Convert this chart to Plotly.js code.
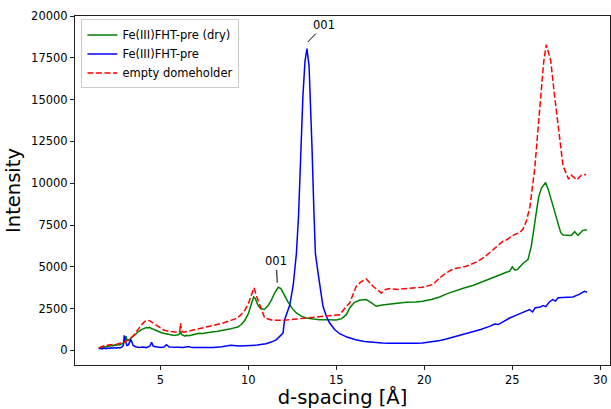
<!DOCTYPE html>
<html>
<head>
<meta charset="utf-8">
<script src="https://cdn.plot.ly/plotly-3.0.1.min.js"></script>
<style>html,body{margin:0;padding:0;background:#fff;}#chart{width:611px;height:409px;}</style>
</head>
<body>
<div id="chart"></div>
<script>
// Fe(III)FHT-pre (dry)
const dryD = [1.5,1.6,1.7,1.8,1.9,2.0,2.1,2.2,2.3,2.4,2.5,2.6,2.7,2.8,2.9,3.0,3.05,3.1,3.2,3.3,3.4,3.5,3.6,3.7,3.8,3.9,4.0,4.1,4.2,4.3,4.4,4.5,4.6,4.7,4.8,4.9,5.0,5.1,5.2,5.3,5.4,5.5,5.6,5.7,5.8,5.9,6.0,6.1,6.15,6.2,6.3,6.4,6.5,6.6,6.8,7.0,7.2,7.4,7.6,7.8,8.0,8.2,8.4,8.6,8.8,9.0,9.2,9.4,9.6,9.8,10.0,10.15,10.3,10.4,10.55,10.7,10.9,11.1,11.3,11.5,11.7,11.85,12.0,12.25,12.5,12.73,13.0,13.3,13.7,14.05,14.5,15.0,15.3,15.57,15.76,16.0,16.3,16.7,17.0,17.27,17.6,18.03,18.5,18.98,19.5,19.9,20.4,20.87,21.3,21.82,22.3,22.76,23.2,23.7,24.2,24.66,24.85,25.0,25.15,25.3,25.6,25.89,26.08,26.36,26.5,26.65,26.89,27.05,27.2,27.4,27.6,27.75,27.88,28.1,28.35,28.54,28.73,29.0,29.24];
const dryI = [150,190,160,230,200,270,240,300,270,330,300,360,330,410,450,700,850,650,620,700,800,900,990,1080,1160,1230,1290,1320,1370,1340,1380,1300,1290,1220,1190,1120,1090,1040,1020,980,970,940,930,930,900,920,930,1000,1150,950,880,860,900,880,920,980,1030,1010,1060,1080,1120,1140,1170,1200,1260,1300,1350,1400,1550,1800,2200,2700,3200,3100,2700,2500,2450,2650,3000,3450,3780,3700,3400,2900,2500,2240,2050,1940,1880,1840,1840,1820,1900,2140,2540,2850,3000,3040,2850,2640,2720,2780,2840,2880,2900,2940,3050,3200,3400,3600,3750,3880,4050,4280,4480,4680,4740,5000,4800,4850,5200,5440,6240,8240,9200,9700,10040,9600,9040,8300,7440,7040,6900,6900,6880,7100,6880,7180,7220];

// Fe(III)FHT-pre
const wetD = [1.5,1.6,1.7,1.8,1.9,2.0,2.1,2.2,2.3,2.4,2.5,2.6,2.7,2.8,2.9,2.95,3.0,3.05,3.1,3.2,3.3,3.35,3.45,3.6,3.8,4.0,4.2,4.4,4.5,4.6,4.8,5.0,5.2,5.35,5.5,5.8,6.0,6.3,6.6,6.8,7.2,7.6,8.0,8.5,9.0,9.5,10.0,10.5,11.0,11.3,11.6,11.97,12.06,12.35,12.55,12.73,12.85,12.97,13.1,13.22,13.33,13.45,13.55,13.62,13.72,13.81,13.96,14.1,14.24,14.45,14.62,14.9,15.19,15.6,16.1,16.6,17.1,17.6,18.0,18.5,19.0,19.5,19.9,20.4,20.9,21.3,21.8,22.3,22.76,23.2,23.7,24.0,24.2,24.5,24.85,25.2,25.6,25.98,26.15,26.3,26.55,26.74,26.9,27.1,27.3,27.45,27.6,27.88,28.2,28.44,28.8,29.1,29.24];
const wetI = [100,130,90,140,110,150,120,160,130,170,140,180,150,200,300,900,600,400,300,350,650,600,300,220,180,200,170,250,480,250,190,170,200,340,200,170,190,180,240,170,160,170,180,220,310,270,280,320,400,500,650,1040,1840,2700,3900,5800,8000,12080,15200,17300,18050,17000,14500,12080,8500,5800,4640,3500,2640,2000,1640,1250,1000,800,640,540,480,450,430,420,420,430,440,500,600,700,840,960,1080,1250,1440,1580,1550,1750,1940,2100,2280,2440,2300,2550,2580,2680,2620,2900,3040,2950,3150,3180,3200,3200,3350,3540,3480];

// empty domeholder
const emptyD = [1.5,1.6,1.7,1.8,1.9,2.0,2.1,2.2,2.3,2.4,2.5,2.6,2.7,2.8,2.9,3.0,3.1,3.2,3.3,3.4,3.5,3.6,3.7,3.8,3.9,4.0,4.1,4.2,4.3,4.4,4.5,4.6,4.7,4.8,4.9,5.0,5.2,5.4,5.6,5.8,6.0,6.1,6.15,6.2,6.3,6.5,6.8,7.0,7.3,7.6,8.0,8.5,9.0,9.3,9.5,9.8,10.0,10.15,10.32,10.45,10.64,10.8,10.93,11.4,12.0,12.73,13.5,14.05,14.8,15.19,15.57,15.76,16.13,16.4,16.7,17.08,17.56,17.8,18.03,18.5,19.0,19.5,19.9,20.5,20.87,21.2,21.63,22.0,22.39,22.95,23.3,23.71,24.1,24.47,24.66,25.03,25.4,25.6,25.8,26.0,26.27,26.55,26.78,26.93,27.18,27.4,27.69,27.88,28.2,28.35,28.5,28.67,28.92,29.2];
const emptyI = [150,210,240,280,300,320,330,320,360,340,370,380,410,430,470,520,590,650,740,820,930,1050,1200,1350,1500,1620,1720,1780,1800,1770,1700,1630,1540,1470,1380,1310,1220,1160,1120,1100,1080,1150,1640,1200,1080,1130,1200,1260,1320,1400,1480,1620,1800,1900,2050,2400,2800,3300,3750,3300,2740,2200,1940,1800,1800,1880,1950,2040,2080,2140,2640,2840,3840,4100,4280,3840,3440,3650,3700,3650,3700,3720,3780,3950,4340,4600,4880,4950,5040,5280,5500,5840,6200,6540,6600,6880,7040,7240,7740,8600,10840,14240,17240,18280,17340,15240,12640,11040,10240,10480,10350,10200,10480,10520];

const seriesNames = ['Fe(III)FHT-pre (dry)', 'Fe(III)FHT-pre', 'empty domeholder'];
const xTicks = [5, 10, 15, 20, 25, 30];
const yTicks = [0, 2500, 5000, 7500, 10000, 12500, 15000, 17500, 20000];

const FONT = 'DejaVu Sans, sans-serif';

const traces = [
  {x: dryD, y: dryI, name: seriesNames[0], mode: 'lines', line: {color: '#008000', width: 1.5}},
  {x: wetD, y: wetI, name: seriesNames[1], mode: 'lines', line: {color: '#0000ff', width: 1.5}},
  {x: emptyD, y: emptyI, name: seriesNames[2], mode: 'lines', line: {color: '#ff0000', width: 1.5, dash: '6px,2.5px'}}
];

const axisCommon = {
  showline: true, mirror: true, linecolor: '#222', linewidth: 1,
  ticks: 'outside', ticklen: 4, tickwidth: 1, tickcolor: '#222',
  showgrid: false, zeroline: false,
  tickfont: {family: FONT, size: 11.5, color: '#000'}
};

const layout = {
  width: 611, height: 409,
  margin: {l: 75, r: 1, t: 16, b: 44},
  paper_bgcolor: '#fff', plot_bgcolor: '#fff',
  font: {family: FONT, color: '#000'},
  showlegend: true,
  legend: {
    x: 0.012, y: 0.99, xanchor: 'left', yanchor: 'top',
    bgcolor: 'rgba(255,255,255,0.85)', bordercolor: '#ccc', borderwidth: 1,
    font: {family: FONT, size: 11.5, color: '#000'},
    itemwidth: 30
  },
  xaxis: Object.assign({}, axisCommon, {
    range: [0.15, 30.55], tickvals: xTicks, tickformat: 'd',
    title: {text: 'd-spacing [Å]', font: {family: FONT, size: 19.5, color: '#000'}, standoff: 4}
  }),
  yaxis: Object.assign({}, axisCommon, {
    range: [-870, 20000], tickvals: yTicks, tickformat: 'd',
    title: {text: 'Intensity', font: {family: FONT, size: 19.5, color: '#000'}, standoff: 5}
  }),
  annotations: [
    {x: 13.38, y: 18450, xref: 'x', yref: 'y', ax: 14.3, ay: 19450, axref: 'x', ayref: 'y',
     text: '001', showarrow: true, arrowhead: 0, arrowwidth: 1, arrowcolor: '#000',
     font: {family: FONT, size: 11.5, color: '#000'}, standoff: 0},
    {x: 11.64, y: 4050, xref: 'x', yref: 'y', ax: 11.59, ay: 5320, axref: 'x', ayref: 'y',
     text: '001', showarrow: true, arrowhead: 0, arrowwidth: 1, arrowcolor: '#000',
     font: {family: FONT, size: 11.5, color: '#000'}, standoff: 0}
  ]
};

Plotly.newPlot('chart', traces, layout, {displayModeBar: false, staticPlot: true});
</script>
</body>
</html>
